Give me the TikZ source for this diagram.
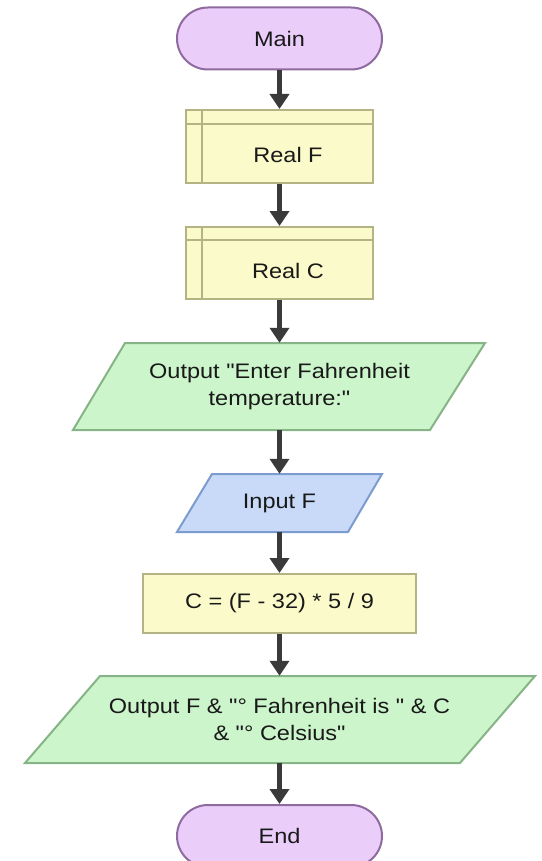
\documentclass[tikz,border=0pt]{standalone}
\usepackage{fontspec}
\setmainfont{Liberation Sans}[FakeStretch=1.12, Ligatures=TeXOff]
\usetikzlibrary{arrows.meta,shapes.misc}
\definecolor{termfill}{HTML}{EBCDFA}
\definecolor{termline}{HTML}{8E6A9E}
\definecolor{subfill}{HTML}{FAFACA}
\definecolor{subline}{HTML}{B3B383}
\definecolor{outfill}{HTML}{CCF5CC}
\definecolor{outline}{HTML}{86B486}
\definecolor{infill}{HTML}{C8DAF8}
\definecolor{inline}{HTML}{7C9BCF}
\definecolor{arrowcol}{HTML}{3A3A3A}
\begin{document}
\begin{tikzpicture}[x=1pt,y=-1pt,
  txt/.style={font=\fontsize{21}{27}\selectfont, text=black!90, align=center, inner sep=0pt},
  term/.style={txt, rounded rectangle, draw=termline, fill=termfill, line width=2pt, minimum width=205pt, minimum height=62pt},
  subbox/.style={draw=subline, fill=subfill, line width=2pt, inner sep=0pt},
  subsep/.style={draw=subline, line width=2pt},
  procbox/.style={txt, draw=subline, fill=subfill, line width=2pt},
  outshape/.style={draw=outline, fill=outfill, line width=2pt, line join=miter},
  inshape/.style={draw=inline, fill=infill, line width=2pt, line join=miter},
  anchorbox/.style={txt, draw=none, minimum width=300pt},
  flow/.style={draw=arrowcol, line width=4.5pt, -{Triangle[width=19pt,length=15pt]}}
]
\useasboundingbox (0,0) rectangle (541,861);

% terminals
\node[term] (main) at (279.5,38.5) {Main};

% Real F
\node[subbox, minimum width=187pt, minimum height=73pt] (realf) at (279.5,146.5) {};
\draw[subsep] ([xshift=17pt]realf.north west) -- ([xshift=17pt]realf.south west);
\draw[subsep] ([yshift=-15pt]realf.north west) -- ([yshift=-15pt]realf.north east);
\node[txt] (realftxt) at (288,155) {Real F};

% Real C
\node[subbox, minimum width=187pt, minimum height=72pt] (realc) at (279.5,263) {};
\draw[subsep] ([xshift=17pt]realc.north west) -- ([xshift=17pt]realc.south west);
\draw[subsep] ([yshift=-14pt]realc.north west) -- ([yshift=-14pt]realc.north east);
\node[txt] (realctxt) at (288,271) {Real C};

% Output 1
\draw[outshape] (125,343) -- (485,343) -- (430,430) -- (73,430) -- cycle;
\node[anchorbox, minimum height=87pt] (out1) at (279.5,386.5) {Output "Enter Fahrenheit\\temperature:"};

% Input F
\draw[inshape] (212,474) -- (382,474) -- (348,532) -- (177,532) -- cycle;
\node[anchorbox, minimum width=150pt, minimum height=58pt] (inp) at (279.5,503) {Input F};

% Process
\node[procbox, minimum width=273pt, minimum height=59pt] (proc) at (279.5,603.5) {C = (F - 32) * 5 / 9};

% Output 2
\draw[outshape] (100,676) -- (535,676) -- (460,763) -- (25,763) -- cycle;
\node[anchorbox, minimum height=87pt] (out2) at (279.5,719.5) {Output F \& "° Fahrenheit is "\ \& C\\\& "° Celsius"};

% End
\node[term] (endn) at (279.5,836) {End};

% connectors
\draw[flow] (main.south) -- (realf.north);
\draw[flow] (realf.south) -- (realc.north);
\draw[flow] (realc.south) -- (out1.north);
\draw[flow] (out1.south) -- (inp.north);
\draw[flow] (inp.south) -- (proc.north);
\draw[flow] (proc.south) -- (out2.north);
\draw[flow] (out2.south) -- (endn.north);
\end{tikzpicture}
\end{document}
